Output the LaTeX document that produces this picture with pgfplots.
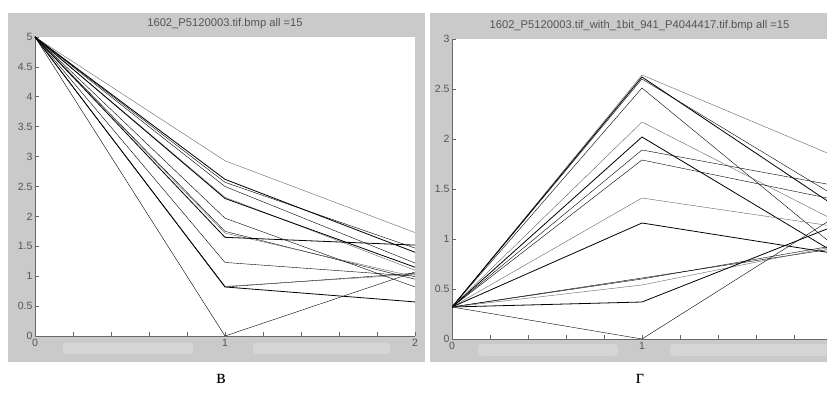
\documentclass[border=0pt]{standalone}
\usepackage{fontspec}
\setmainfont{Liberation Sans}
\newfontfamily\cyrserif{Liberation Serif}
\usepackage{pgfplots}
\pgfplotsset{compat=1.18}

\definecolor{figgray}{RGB}{202,202,202}
\definecolor{blobgray}{RGB}{214,214,214}
\definecolor{linegray}{RGB}{100,100,100}
\definecolor{axgray}{RGB}{105,105,105}
\definecolor{labgray}{RGB}{85,85,85}

\pgfplotsset{
  matstyle/.style={
    scale only axis,
    anchor=south west,
    axis lines=left,
    axis line style={-,draw=axgray,line width=0.8pt},
    axis background/.style={fill=white},
    tick align=inside,
    major tick length=4pt,
    tick style={draw=axgray,line width=0.6pt},
    ticklabel style={font=\fontsize{10.5}{12}\selectfont,text=labgray},
    yticklabel style={xshift=1pt},
    /pgf/number format/assume math mode=true,
    title style={font=\fontsize{11.2}{13}\selectfont,text=labgray,
                 at={(0.5,1)},anchor=center,yshift=7pt},
    cycle list={{draw=linegray,line width=0.8pt,mark=none,solid}},
    xtick={0,0.2,0.4,0.6,0.8,1,1.2,1.4,1.6,1.8,2},
    xticklabels={0,,,,,1,,,,,2},
    ytick distance=0.5,
  }
}

\begin{document}
\begin{tikzpicture}
\useasboundingbox (0pt,0pt) rectangle (827pt,406pt);
% panel backgrounds
\fill[figgray] (8pt,44pt) rectangle (425pt,393pt);
\fill[figgray] (430pt,44pt) rectangle (827pt,393pt);
% blurred labels under the x axes
\fill[blobgray,rounded corners=3pt] (63pt,52pt) rectangle (193pt,63pt);
\fill[blobgray,rounded corners=3pt] (253pt,52pt) rectangle (390pt,63pt);
\fill[blobgray,rounded corners=3pt] (478pt,50pt) rectangle (618pt,62pt);
\fill[blobgray,rounded corners=3pt] (670pt,50pt) rectangle (827pt,62pt);

\begin{axis}[matstyle,
    at={(35pt,70pt)}, width=380pt, height=299pt,
    xmin=0, xmax=2, ymin=0, ymax=5,
    title={1602\_P5120003.tif.bmp all =15}]
\addplot coordinates {(0,5) (1,2.93) (2,1.73)};
\addplot coordinates {(0,5) (1,2.62) (2,1.40)};
\addplot coordinates {(0,5) (1,2.57) (2,1.47)};
\addplot coordinates {(0,5) (1,2.50) (2,1.22)};
\addplot coordinates {(0,5) (1,2.32) (2,1.10)};
\addplot coordinates {(0,5) (1,2.30) (2,1.15)};
\addplot coordinates {(0,5) (1,1.97) (2,0.82)};
\addplot coordinates {(0,5) (1,1.75) (2,0.95)};
\addplot coordinates {(0,5) (1,1.72) (2,0.99)};
\addplot coordinates {(0,5) (1,1.65) (2,1.52)};
\addplot coordinates {(0,5) (1,1.23) (2,1.00)};
\addplot coordinates {(0,5) (1,0.82) (2,1.05)};
\addplot coordinates {(0,5) (1,0.83) (2,1.03)};
\addplot coordinates {(0,5) (1,0.82) (2,0.57)};
\addplot coordinates {(0,5) (1,0.00) (2,1.07)};
\end{axis}

\begin{axis}[matstyle,
    at={(452pt,67pt)}, width=375pt, height=300pt,
    xmin=0, xmax=1.974, ymin=0, ymax=3,
    title={1602\_P5120003.tif\_with\_1bit\_941\_P4044417.tif.bmp all =15}]
\addplot coordinates {(0,0.32) (1,2.64) (2,1.84)};
\addplot coordinates {(0,0.32) (1,2.62) (2,1.35)};
\addplot coordinates {(0,0.32) (1,2.60) (2,1.45)};
\addplot coordinates {(0,0.32) (1,2.51) (2,0.95)};
\addplot coordinates {(0,0.32) (1,2.17) (2,1.20)};
\addplot coordinates {(0,0.32) (1,2.02) (2,0.88)};
\addplot coordinates {(0,0.32) (1,1.89) (2,1.54)};
\addplot coordinates {(0,0.32) (1,1.79) (2,1.40)};
\addplot coordinates {(0,0.32) (1,1.41) (2,1.13)};
\addplot coordinates {(0,0.32) (1,1.16) (2,0.86)};
\addplot coordinates {(0,0.32) (1,0.61) (2,0.90)};
\addplot coordinates {(0,0.32) (1,0.60) (2,0.93)};
\addplot coordinates {(0,0.32) (1,0.54) (2,0.92)};
\addplot coordinates {(0,0.32) (1,0.37) (2,1.12)};
\addplot coordinates {(0,0.32) (1,0.00) (2,1.20)};
\end{axis}

\node[font=\cyrserif\fontsize{20}{22}\selectfont,anchor=base] at (221pt,22pt) {в};
\node[font=\cyrserif\fontsize{20}{22}\selectfont,anchor=base] at (640pt,22pt) {г};
\end{tikzpicture}
\end{document}
